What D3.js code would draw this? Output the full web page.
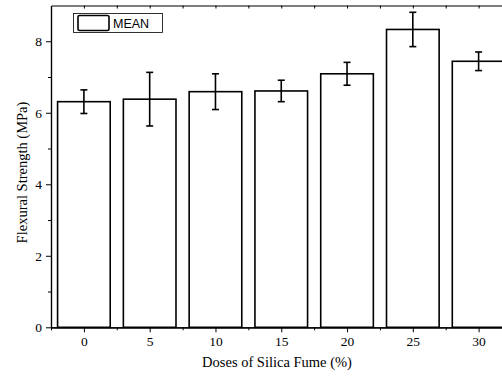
<!DOCTYPE html>
<html><head><meta charset="utf-8">
<script src="https://cdn.jsdelivr.net/npm/d3@7"></script>
<style>body{margin:0;background:#fff}svg{display:block}</style>
</head><body>
<svg id="c" width="502" height="377"></svg>
<script>
const doses = [0, 5, 10, 15, 20, 25, 30];
const meanValues = [6.31, 6.38, 6.59, 6.61, 7.09, 8.33, 7.44];
const errValues = [0.33, 0.75, 0.50, 0.30, 0.32, 0.48, 0.26];
const yTicks = [0, 2, 4, 6, 8];
const xTicks = [0, 5, 10, 15, 20, 25, 30];
const legendLabel = "MEAN";

const svg = d3.select("#c");
const x = d3.scaleLinear().domain([-2.5, 32.5]).range([51, 511.5]);
const y = d3.scaleLinear().domain([0, 9]).range([327.3, 5.5]);
const serif = "'Liberation Serif', 'Times New Roman', serif";

// bars
svg.append("g").selectAll("rect").data(doses).join("rect")
  .attr("x", (d) => x(d - 2))
  .attr("width", (d) => x(d + 2) - x(d - 2))
  .attr("y", (d, i) => y(meanValues[i]))
  .attr("height", (d, i) => y(0) - y(meanValues[i]))
  .attr("fill", "#fff").attr("stroke", "#000").attr("stroke-width", 1.6);

// error bars
const eg = svg.append("g").attr("stroke", "#000").attr("stroke-width", 1.6);
doses.forEach((d, i) => {
  const cx = x(d), t = y(meanValues[i] + errValues[i]), b = y(meanValues[i] - errValues[i]);
  eg.append("line").attr("x1", cx).attr("x2", cx).attr("y1", t).attr("y2", b);
  eg.append("line").attr("x1", cx - 3.5).attr("x2", cx + 3.5).attr("y1", t).attr("y2", t);
  eg.append("line").attr("x1", cx - 3.5).attr("x2", cx + 3.5).attr("y1", b).attr("y2", b);
});

// axes
const minorX = d3.range(-2.5, 33, 5);
const minorY = [1, 3, 5, 7];
svg.append("g").attr("transform", `translate(0,${y(0)})`)
  .call(d3.axisBottom(x).tickValues(xTicks).tickFormat(d3.format("d")).tickSizeInner(5).tickSizeOuter(0).tickPadding(4));
svg.append("g").attr("transform", `translate(0,${y(0)})`)
  .call(d3.axisBottom(x).tickValues(minorX).tickFormat("").tickSizeInner(3).tickSizeOuter(0));
svg.append("g").attr("transform", `translate(${x(-2.5)},0)`)
  .call(d3.axisLeft(y).tickValues(yTicks).tickFormat(d3.format("d")).tickSizeInner(5).tickSizeOuter(0).tickPadding(4));
svg.append("g").attr("transform", `translate(${x(-2.5)},0)`)
  .call(d3.axisLeft(y).tickValues(minorY).tickFormat("").tickSizeInner(3).tickSizeOuter(0));
// top axis, inward ticks
svg.append("g").attr("transform", `translate(0,${y(9)})`)
  .call(d3.axisBottom(x).tickValues(d3.range(0, 32.6, 2.5)).tickFormat("").tickSizeInner(3).tickSizeOuter(0));
svg.selectAll(".domain").attr("stroke", "#000").attr("stroke-width", 1.2);
svg.selectAll(".tick line").attr("stroke", "#000");
svg.selectAll(".tick text").attr("font-family", serif).attr("font-size", 13.5).attr("fill", "#000");

// axis titles
svg.append("text").attr("x", 277).attr("y", 367).attr("text-anchor", "middle")
  .attr("font-family", serif).attr("font-size", 14.5).text("Doses of Silica Fume (%)");
svg.append("text").attr("transform", "translate(27,172.5) rotate(-90)").attr("text-anchor", "middle")
  .attr("font-family", serif).attr("font-size", 14.5).text("Flexural Strength (MPa)");

// legend
const lg = svg.append("g");
lg.append("rect").attr("x", 73.5).attr("y", 13.5).attr("width", 89).attr("height", 19)
  .attr("fill", "#fff").attr("stroke", "#000").attr("stroke-width", 0.8);
lg.append("rect").attr("x", 78).attr("y", 15.5).attr("width", 31).attr("height", 15).attr("rx", 1.5)
  .attr("fill", "#fff").attr("stroke", "#000").attr("stroke-width", 1.6);
lg.append("text").attr("x", 113).attr("y", 28).attr("font-family", "'Liberation Sans', Arial, sans-serif")
  .attr("font-size", 12.5).text(legendLabel);
</script>
</body></html>
